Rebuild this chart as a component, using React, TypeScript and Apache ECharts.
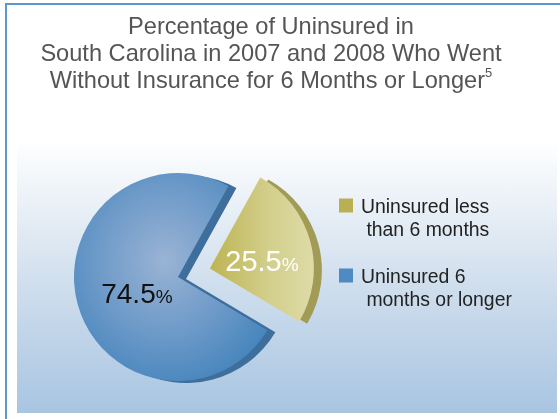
import React, { useEffect, useRef } from 'react';
import * as echarts from 'echarts';

const CATEGORIES = ['Uninsured less\n than 6 months', 'Uninsured 6\n months or longer'];
const VALUES = [25.5, 74.5];
const TITLE_LINES = [
  'Percentage of Uninsured in',
  'South Carolina in 2007 and 2008 Who Went',
  'Without Insurance for 6 Months or Longer',
];
const FOOTNOTE = '5';

const FONT = "'Liberation Sans', Arial, Helvetica, sans-serif";
const LEGEND_COLORS = ['#b8b052', '#4f8bc3'];
const SIDE_COLORS = ['#a29b55', '#3d6e9c'];

export default function App() {
  const ref = useRef<HTMLDivElement>(null);
  useEffect(() => {
    document.body.style.margin = '0';
    if (!ref.current) return;
    const chart = echarts.init(ref.current, undefined, { renderer: 'svg' });

    const goldGrad = new echarts.graphic.LinearGradient(0, 0, 1, 0, [
      { offset: 0, color: '#bdb453' },
      { offset: 0.55, color: '#d2ce8a' },
      { offset: 1, color: '#dedba8' },
    ]);
    const blueGrad = new echarts.graphic.RadialGradient(0.47, 0.42, 0.62, [
      { offset: 0, color: '#9ab3d4' },
      { offset: 0.55, color: '#6f9bc9' },
      { offset: 1, color: '#4886bd' },
    ]);
    const frontColors = [goldGrad, blueGrad];
    const labelPads = [
      [14, 2, 0, 0],
      [4, 0, 0, 24],
    ];

    const titleText =
      TITLE_LINES.slice(0, -1).map((l) => `{a|${l}}`).join('\n') +
      `\n{a|${TITLE_LINES[TITLE_LINES.length - 1]}}{s|${FOOTNOTE}}`;

    chart.setOption({
      animation: false,
      graphic: [
        {
          type: 'rect',
          z: -10,
          shape: { x: 6, y: 4, width: 570, height: 440 },
          style: { fill: '#ffffff', stroke: '#5e96d0', lineWidth: 2 },
          silent: true,
        },
        {
          type: 'rect',
          z: -9,
          shape: { x: 17, y: 140, width: 540, height: 273 },
          style: {
            fill: new echarts.graphic.LinearGradient(0, 0, 0, 1, [
              { offset: 0, color: '#ffffff' },
              { offset: 0.5, color: '#d2e0ee' },
              { offset: 1, color: '#a8c5e1' },
            ]),
          },
          silent: true,
        },
      ],
      title: {
        text: titleText,
        left: 266,
        top: 7,
        textAlign: 'center',
        textStyle: {
          fontFamily: FONT,
          fontWeight: 'normal',
          fontSize: 23.6,
          lineHeight: 27,
          color: '#555555',
          rich: {
            a: { fontFamily: FONT, fontWeight: 'normal', fontSize: 23.6, lineHeight: 27, color: '#555555' },
            s: { fontFamily: FONT, fontWeight: 'normal', fontSize: 13, lineHeight: 18, color: '#555555', verticalAlign: 'top' },
          },
        },
      },
      legend: {
        orient: 'vertical',
        left: 339,
        top: 171,
        padding: 0,
        itemWidth: 14,
        itemHeight: 14,
        itemGap: 1,
        icon: 'rect',
        selectedMode: false,
        formatter: (name: string) => '\n' + name,
        textStyle: {
          fontFamily: FONT,
          fontSize: 19.4,
          lineHeight: 23,
          color: '#222222',
          padding: [0, 0, 0, 3],
        },
        data: CATEGORIES.map((n, i) => ({ name: n, itemStyle: { color: LEGEND_COLORS[i] } })),
      },
      series: [
        {
          type: 'pie',
          z: 3,
          center: [178, 277],
          radius: 104,
          startAngle: 61,
          clockwise: true,
          selectedMode: 'single',
          selectedOffset: 33,
          avoidLabelOverlap: false,
          silent: true,
          emphasis: { disabled: true },
          labelLine: { show: false },
          label: {
            show: true,
            position: 'inside',
            formatter: (p: any) =>
              p.dataIndex === 0 ? `{w|${p.value.toFixed(1)}}{wp|%}` : `{k|${p.value.toFixed(1)}}{kp|%}`,
            rich: {
              w: { fontFamily: FONT, fontSize: 29, color: '#ffffff' },
              wp: { fontFamily: FONT, fontSize: 19, color: '#ffffff', padding: [6, 0, 0, 0] },
              k: { fontFamily: FONT, fontSize: 28, color: '#111111' },
              kp: { fontFamily: FONT, fontSize: 19, color: '#111111', padding: [6, 0, 0, 0] },
            },
          },
          data: CATEGORIES.map((n, i) => ({
            name: n,
            value: VALUES[i],
            selected: i === 0,
            itemStyle: { color: frontColors[i] },
            label: { padding: labelPads[i] },
          })),
        },
        {
          type: 'pie',
          z: 2,
          center: [186, 279],
          radius: 104,
          startAngle: 61,
          clockwise: true,
          selectedMode: 'single',
          selectedOffset: 33,
          silent: true,
          emphasis: { disabled: true },
          label: { show: false },
          labelLine: { show: false },
          data: CATEGORIES.map((n, i) => ({
            name: n,
            value: VALUES[i],
            selected: i === 0,
            itemStyle: { color: SIDE_COLORS[i] },
          })),
        },
      ],
    });
    return () => chart.dispose();
  }, []);
  return <div ref={ref} style={{ position: 'fixed', left: 0, top: 0, width: 560, height: 419 }} />;
}
